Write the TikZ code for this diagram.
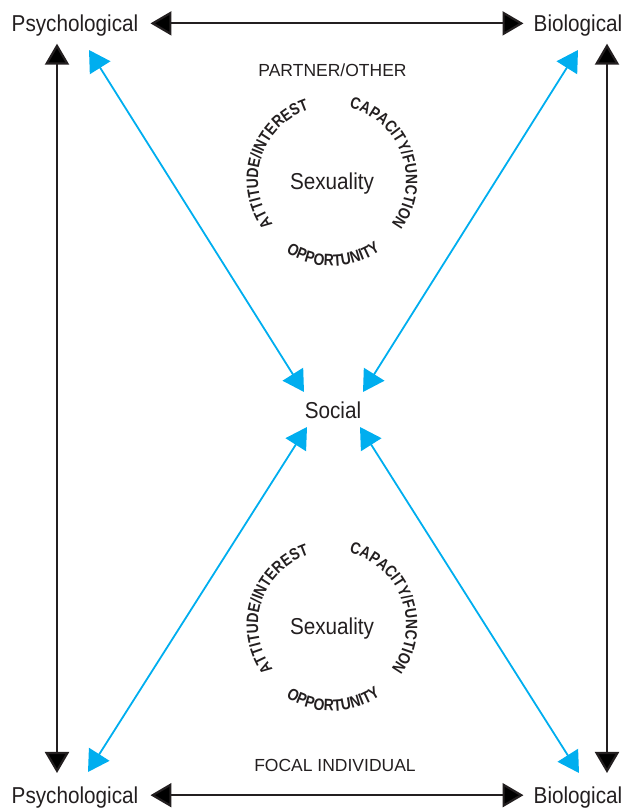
\documentclass[tikz,border=0pt]{standalone}
\usepackage{fontspec}
\setmainfont{Liberation Sans}
\newfontfamily\narrowfont[FakeStretch=0.9]{Liberation Sans}
\newfontfamily\arcfont[FakeStretch=0.84]{Liberation Sans Bold}
\usepackage{tikz}
\usetikzlibrary{arrows.meta,decorations.text}
\definecolor{ink}{RGB}{35,31,32}
\definecolor{sky}{RGB}{0,174,239}
\newcommand{\arcfmt}{\arcfont\fontsize{16.5}{16.5}\selectfont}

\begin{document}
\begin{tikzpicture}[
  x=1pt, y=1pt,
  lbl/.style={inner sep=0pt,text=ink,font=\narrowfont\fontsize{23}{23}\selectfont},
  caps/.style={inner sep=0pt,text=ink,font=\fontsize{17.5}{17.5}\selectfont},
  blk/.style={draw=ink,line width=2.2pt,{Triangle[length=21pt,width=24pt]}-{Triangle[length=21pt,width=24pt]}},
  blu/.style={draw=sky,line width=1.8pt,{Triangle[length=21pt,width=24pt]}-{Triangle[length=21pt,width=24pt]}},
  arctext/.style={decorate,decoration={text along path,text align=center,text color=ink,text={#1}}}
]
\useasboundingbox (0,0) rectangle (625,810);
% corner labels
\node[lbl,anchor=base] (psyT) at (75,778.3) {Psychological};
\node[lbl,anchor=base] (bioT) at (578,778.3) {Biological};
\node[lbl,anchor=base] (psyB) at (75,6.5) {Psychological};
\node[lbl,anchor=base] (bioB) at (578,6.5) {Biological};
\node[lbl,anchor=base] (soc) at (333,391) {Social};
\node[caps,anchor=base] (partner) at (332.5,733) {PARTNER/OTHER};
\node[caps,anchor=base] (focal) at (335,38.3) {FOCAL INDIVIDUAL};
% the two sexuality rings
\coordinate (cu) at (332,630);
\coordinate (cl) at (332,185);
\node[lbl,anchor=base] (sexU) at ([yshift=-10pt]cu) {Sexuality};
\node[lbl,anchor=base] (sexL) at ([yshift=-10pt]cl) {Sexuality};
\foreach \c in {cu,cl}{
  \path[arctext={|\arcfmt|ATTITUDE/INTEREST}] ([shift={(240:74pt)}]\c) arc[start angle=240,end angle=85,radius=74pt];
  \path[arctext={|\arcfmt|CAPACITY/FUNCTION}] ([shift={(80:74pt)}]\c) arc[start angle=80,end angle=-40,radius=74pt];
  \path[arctext={|\arcfmt|OPPORTUNITY}] ([shift={(-135:86pt)}]\c) arc[start angle=-135,end angle=-43,radius=86pt];
}
% black frame arrows
\draw[blk,shorten <=12pt,shorten >=10pt] ([yshift=8.3pt]psyT.base east) -- ([yshift=8.3pt]bioT.base west);
\draw[blk,shorten <=12pt,shorten >=10pt] ([yshift=8.3pt]psyB.base east) -- ([yshift=8.3pt]bioB.base west);
\draw[blk] ([xshift=-18pt,yshift=-12pt]psyT.base) -- ([xshift=-18pt,yshift=30.5pt]psyB.base);
\draw[blk] ([xshift=29pt,yshift=-12pt]bioT.base) -- ([xshift=29pt,yshift=30.5pt]bioB.base);
% blue arrows to social
\draw[blu] ([xshift=14pt,yshift=-18.3pt]psyT.base) -- ([xshift=-29pt,yshift=27pt]soc.base);
\draw[blu] ([yshift=-18.3pt]bioT.base) -- ([xshift=30pt,yshift=27pt]soc.base);
\draw[blu] ([xshift=-26pt,yshift=-8pt]soc.base) -- ([xshift=13pt,yshift=31.5pt]psyB.base);
\draw[blu] ([xshift=27pt,yshift=-8pt]soc.base) -- ([xshift=1pt,yshift=30.5pt]bioB.base);
\end{tikzpicture}
\end{document}
